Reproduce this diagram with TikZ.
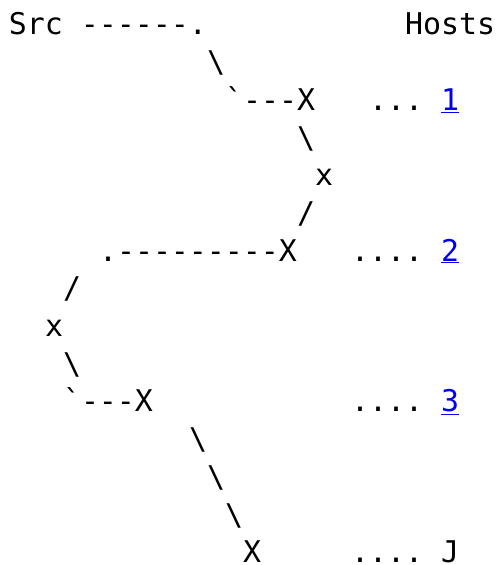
\documentclass[tikz,border=0pt]{standalone}
\usepackage{fontspec}
\setmonofont{DejaVu Sans Mono}
\definecolor{linkblue}{RGB}{0,0,238}
\newcommand{\bsl}{\textbackslash}
\newcommand{\btk}{\symbol{96}}
\begin{document}
\begin{tikzpicture}[x=1pt,y=1pt,
  t/.style={anchor=base west,inner sep=0pt,outer sep=0pt,
    font=\ttfamily\fontsize{29.9pt}{37.7pt}\selectfont},
  lnk/.style={t,text=linkblue}]
\useasboundingbox (0,0) rectangle (498,565);
% row 0
\node[t] (src) at (9,530) {Src ------.};
\node[t] (hosts) at (405,530) {Hosts};
% row 1
\node[t] (b1) at (207,492.3) {\bsl};
% row 2
\node[t] (x1) at (225,454.6) {\btk---X};
\node[t] (d1) at (369,454.6) {...};
\node[lnk] (h1) at (441,454.6) {\underline{1}};
% row 3-5
\node[t] (b2) at (297,416.9) {\bsl};
\node[t] (s1) at (315,379.2) {x};
\node[t] (f1) at (297,341.5) {/};
% row 6
\node[t] (x2) at (99,303.8) {.---------X};
\node[t] (d2) at (351,303.8) {....};
\node[lnk] (h2) at (441,303.8) {\underline{2}};
% row 7-9
\node[t] (f2) at (63,266.1) {/};
\node[t] (s2) at (45,228.4) {x};
\node[t] (b3) at (63,190.7) {\bsl};
% row 10
\node[t] (x3) at (63,153.0) {\btk---X};
\node[t] (d3) at (351,153.0) {....};
\node[lnk] (h3) at (441,153.0) {\underline{3}};
% row 11-13
\node[t] (b4) at (189,115.3) {\bsl};
\node[t] (b5) at (207,77.6) {\bsl};
\node[t] (b6) at (225,39.9) {\bsl};
% row 14
\node[t] (x4) at (243,2.2) {X};
\node[t] (d4) at (351,2.2) {....};
\node[t] (hj) at (441,2.2) {J};
\end{tikzpicture}
\end{document}
